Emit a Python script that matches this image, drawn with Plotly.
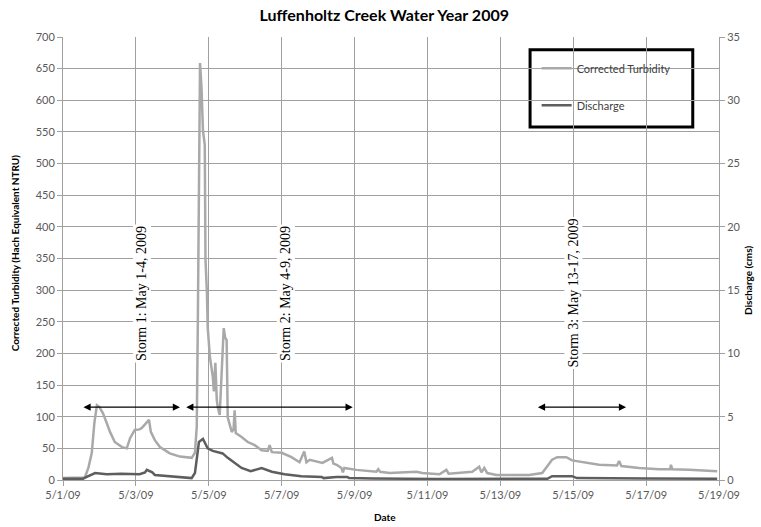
"""Luffenholtz Creek turbidity and discharge, May 2009."""

import pandas as pd
import plotly.graph_objects as go

START = pd.Timestamp("2009-05-01")

# Days after 5/1/09 00:00 and corrected turbidity (NTRU)
turb_days = [
    0.00, 0.30, 0.60, 0.70, 0.79, 0.86, 0.93, 1.00, 1.10, 1.20, 1.29, 1.42,
    1.62, 1.75, 1.84, 1.97, 2.10, 2.16, 2.30, 2.36, 2.41, 2.52, 2.66, 2.93,
    3.21, 3.53, 3.62, 3.67, 3.70, 3.73, 3.76, 3.80, 3.84, 3.89, 3.91, 3.95,
    3.97, 4.03, 4.11, 4.14, 4.18, 4.22, 4.25, 4.30, 4.36, 4.38, 4.41, 4.45,
    4.49, 4.52, 4.63, 4.68, 4.71, 4.74, 4.90, 5.07, 5.26, 5.45, 5.62, 5.67,
    5.73, 6.00, 6.27, 6.49, 6.58, 6.62, 6.68, 6.77, 7.12, 7.38, 7.42, 7.51,
    7.64, 7.68, 7.72, 8.05, 8.60, 8.65, 8.70, 8.96, 9.70, 9.86, 10.33, 10.52,
    10.58, 11.23, 11.42, 11.48, 11.56, 11.64, 11.89, 12.79, 13.15, 13.29,
    13.42, 13.56, 13.81, 13.97, 14.16, 14.71, 15.20, 15.26, 15.32, 15.81,
    16.36, 16.66, 16.68, 16.72, 17.18, 17.95,
]
turbidity = [
    3, 3, 4, 20, 43, 90, 118, 115, 105, 90, 76, 60,
    52, 50, 66, 79, 80, 82, 92, 95, 76, 63, 52, 42,
    37, 35, 43, 84, 250, 480, 659, 620, 553, 529, 347, 295,
    242, 195, 163, 140, 185, 126, 114, 103, 180, 216, 240, 225,
    221, 99, 76, 80, 110, 74, 68, 60, 55, 47, 46, 55,
    44, 43, 36, 28, 39, 45, 28, 32, 27, 35, 26, 24,
    19, 12, 19, 16, 13, 17, 13, 11, 13, 11, 9, 16,
    10, 13, 21, 12, 19, 11, 8, 8, 11, 21,
    32, 36, 36, 31, 29, 24, 23, 30, 22, 19,
    17, 17, 24, 17, 16, 14,
]

# Days after 5/1/09 00:00 and discharge (cms)
flow_days = [
    0.00, 0.55, 0.62, 0.79, 0.88, 1.20, 1.60, 2.10, 2.25, 2.30, 2.45, 2.52,
    2.93, 3.21, 3.53, 3.62, 3.73, 3.84, 3.97, 4.11, 4.22, 4.38, 4.52, 4.71,
    4.90, 5.15, 5.45, 5.73, 6.08, 6.54, 7.10, 7.15, 7.50, 7.80, 7.85, 8.50,
    10.30, 13.29, 13.42, 13.97, 14.10, 16.00, 17.95,
]
discharge = [
    0.10, 0.10, 0.20, 0.40, 0.55, 0.45, 0.50, 0.45, 0.60, 0.80, 0.60, 0.40,
    0.30, 0.20, 0.15, 0.55, 3.00, 3.25, 2.50, 2.30, 2.20, 2.10, 1.75, 1.35,
    0.95, 0.70, 0.95, 0.65, 0.45, 0.30, 0.24, 0.15, 0.24, 0.24, 0.15, 0.12,
    0.08, 0.10, 0.30, 0.30, 0.15, 0.12, 0.10,
]

# Storm labels: text, label centre (day, NTRU), arrow span (start day, end day)
storm_labels = ["Storm 1: May 1-4, 2009", "Storm 2: May 4-9, 2009",
                "Storm 3: May 13-17, 2009"]
storm_label_days = [2.16, 6.11, 14.0]
storm_label_level = 295
storm_starts = [0.52, 3.34, 12.99]
storm_ends = [3.21, 7.95, 15.45]
arrow_level = 115

LIGHT = "#a9a9a9"
DARK = "#5e5e5e"
GRID = "#a0a0a0"
TICK_FONT = {"family": "Lato", "size": 11, "color": "#595959"}
TITLE_FONT = {"family": "Lato", "size": 10, "color": "black"}


def to_dates(days):
    """Convert day offsets into timestamps."""
    return START + pd.to_timedelta(days, unit="D")


fig = go.Figure()

fig.add_trace(
    go.Scatter(
        x=to_dates(turb_days),
        y=turbidity,
        name="Corrected Turbidity",
        mode="lines",
        line={"color": LIGHT, "width": 2.5},
        legendgroup="turb",
    )
)
fig.add_trace(
    go.Scatter(
        x=to_dates(flow_days),
        y=discharge,
        name="Discharge",
        mode="lines",
        line={"color": DARK, "width": 2.5},
        yaxis="y2",
        legendgroup="flow",
    )
)

for text, day, start, end in zip(storm_labels, storm_label_days,
                                 storm_starts, storm_ends):
    fig.add_annotation(
        x=to_dates([day])[0],
        y=storm_label_level,
        text=text,
        textangle=-90,
        showarrow=False,
        bgcolor="white",
        font={"family": "Liberation Serif", "size": 14, "color": "black"},
    )
    # Double-headed arrow spanning the storm
    fig.add_annotation(
        x=to_dates([end])[0],
        y=arrow_level,
        ax=to_dates([start])[0],
        ay=arrow_level,
        xref="x",
        yref="y",
        axref="x",
        ayref="y",
        text="",
        showarrow=True,
        arrowhead=2,
        startarrowhead=2,
        arrowside="end+start",
        arrowsize=1.2,
        arrowwidth=1.2,
        arrowcolor="black",
    )

# Axis titles placed by hand
fig.add_annotation(
    text="<b>Corrected Turbidity (Hach Equivalent NTRU)</b>",
    xref="paper", yref="paper", x=-0.073, y=0.512,
    xanchor="center", yanchor="middle",
    textangle=-90, showarrow=False, font=TITLE_FONT,
)
fig.add_annotation(
    text="<b>Discharge (cms)</b>",
    xref="paper", yref="paper", x=1.044, y=0.451,
    xanchor="center", yanchor="middle",
    textangle=-90, showarrow=False, font=TITLE_FONT,
)
fig.add_annotation(
    text="<b>Date</b>",
    xref="paper", yref="paper", x=0.491, y=-0.0835,
    xanchor="center", yanchor="middle",
    showarrow=False, font=TITLE_FONT,
)

# Legend frame
fig.add_shape(
    type="rect",
    xref="paper",
    yref="paper",
    x0=0.712,
    x1=0.960,
    y0=0.797,
    y1=0.971,
    line={"color": "black", "width": 3},
    fillcolor="white",
    layer="below",
)

fig.update_layout(
    width=761,
    height=527,
    paper_bgcolor="white",
    plot_bgcolor="white",
    margin={"l": 63, "r": 42, "t": 37, "b": 47, "autoexpand": False},
    title={
        "text": "<b>Luffenholtz Creek Water Year 2009</b>",
        "x": 0.505,
        "xanchor": "center",
        "y": 0.970,
        "yanchor": "middle",
        "font": {"family": "Lato", "size": 16, "color": "black"},
    },
    showlegend=True,
    legend={
        "x": 0.722,
        "y": 0.962,
        "xanchor": "left",
        "yanchor": "top",
        "bgcolor": "rgba(0,0,0,0)",
        "font": {"family": "Lato", "size": 11, "color": "#404040"},
        "tracegroupgap": 18,
        "itemwidth": 30,
    },
    xaxis={
        "type": "date",
        "range": [START, START + pd.Timedelta(days=18)],
        "tick0": START,
        "dtick": 2 * 86400000,
        "tickformat": "%-m/%-d/%y",
        "showgrid": True,
        "gridcolor": GRID,
        "gridwidth": 1,
        "showline": True,
        "linecolor": GRID,
        "ticks": "outside",
        "ticklen": 5,
        "tickcolor": GRID,
        "tickfont": TICK_FONT,
        "zeroline": False,
        "automargin": False,
    },
    yaxis={
        "range": [0, 700],
        "dtick": 50,
        "showgrid": True,
        "gridcolor": GRID,
        "gridwidth": 1,
        "showline": True,
        "linecolor": GRID,
        "ticks": "outside",
        "ticklen": 5,
        "tickcolor": GRID,
        "tickfont": TICK_FONT,
        "zeroline": False,
        "automargin": False,
    },
    yaxis2={
        "range": [0, 35],
        "dtick": 5,
        "overlaying": "y",
        "side": "right",
        "showgrid": False,
        "showline": True,
        "linecolor": GRID,
        "ticks": "outside",
        "ticklen": 5,
        "tickcolor": GRID,
        "tickfont": TICK_FONT,
        "zeroline": False,
        "automargin": False,
    },
)

# Drop the browser's default body margin so the figure sits at the page origin
fig.write_html(
    "out.html",
    config={"displayModeBar": False},
    post_script="document.body.style.margin='0';",
)
